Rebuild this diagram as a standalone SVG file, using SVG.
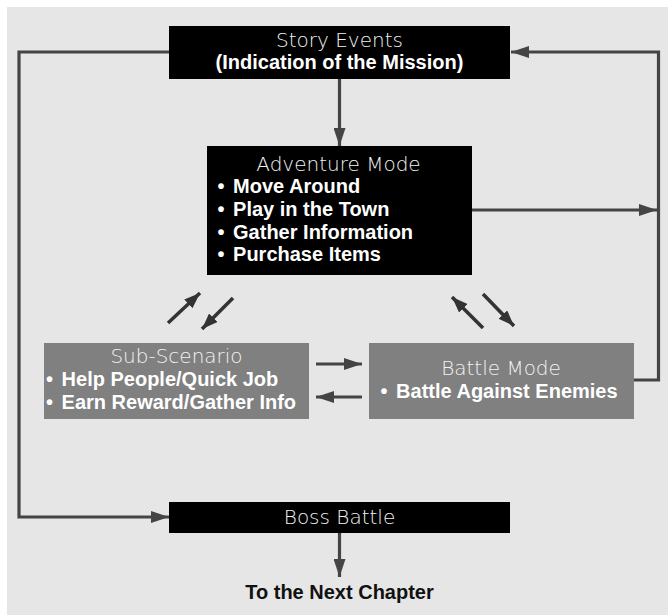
<svg xmlns="http://www.w3.org/2000/svg" width="668" height="615" viewBox="0 0 668 615">
<style>
.bg{fill:#e6e6e6}
.blk{fill:#000}
.gry{fill:#808080}
.ttl{font-family:"DejaVu Sans","Liberation Sans",sans-serif;font-size:20px;font-weight:300;fill:#f2f2f2}
.bld{font-family:"Liberation Sans",Arial,sans-serif;font-size:20px;font-weight:bold;fill:#fff}
.out{font-family:"Liberation Sans",Arial,sans-serif;font-size:20px;font-weight:bold;fill:#111}
.ln{fill:none;stroke:#444;stroke-width:3.2}
.ar{fill:none;stroke:#444;stroke-width:3.2;marker-end:url(#ah)}
.dg{fill:none;stroke:#333;stroke-width:3.5;marker-end:url(#ah2)}
</style>
<defs>
<marker id="ah" markerUnits="userSpaceOnUse" markerWidth="18" markerHeight="12" refX="18" refY="6" orient="auto">
<path d="M0,0 L18,6 L0,12 Z" fill="#444"/>
</marker>
<marker id="ah2" markerUnits="userSpaceOnUse" markerWidth="16" markerHeight="12" refX="16" refY="6" orient="auto">
<path d="M0,0 L16,6 L0,12 Z" fill="#333"/>
</marker>
</defs>
<rect class="bg" x="7" y="7" width="661" height="608"/>
<g id="connectors">
<path class="ar" d="M339.5,79 V146"/>
<path class="ar" d="M472,210 H657"/>
<path class="ar" d="M634,380 H658.5 V52 H511"/>
<path class="ar" d="M169,52 H19 V517 H169"/>
<path class="ar" d="M339.5,533 V577"/>
<path class="ar" d="M316,364 H362"/>
<path class="ar" d="M362,397 H316"/>
<path class="dg" d="M168,323 L200,293"/>
<path class="dg" d="M233,298 L202,329"/>
<path class="dg" d="M483,328 L452,297"/>
<path class="dg" d="M483,294 L514,326"/>
</g>
<g id="story-events">
<rect class="blk" x="169" y="26" width="341" height="53"/>
<text class="ttl" x="339.5" y="46.5" text-anchor="middle">Story Events</text>
<text class="bld" x="339.5" y="68.5" text-anchor="middle">(Indication of the Mission)</text>
</g>
<g id="adventure-mode">
<rect class="blk" x="207" y="146" width="265" height="129"/>
<text class="ttl" x="338.5" y="171" text-anchor="middle">Adventure Mode</text>
<text class="bld" x="217.5" y="193">• <tspan dx="3">Move Around</tspan></text>
<text class="bld" x="217.5" y="216">• <tspan dx="3">Play in the Town</tspan></text>
<text class="bld" x="217.5" y="239">• <tspan dx="3">Gather Information</tspan></text>
<text class="bld" x="217.5" y="261">• <tspan dx="3">Purchase Items</tspan></text>
</g>
<g id="sub-scenario">
<rect class="gry" x="44" y="343" width="265" height="76"/>
<text class="ttl" x="176.5" y="363" text-anchor="middle">Sub-Scenario</text>
<text class="bld" x="46" y="386">• <tspan dx="3">Help People/Quick Job</tspan></text>
<text class="bld" x="46" y="409">• <tspan dx="3">Earn Reward/Gather Info</tspan></text>
</g>
<g id="battle-mode">
<rect class="gry" x="369" y="343" width="265" height="76"/>
<text class="ttl" x="501" y="374.5" text-anchor="middle">Battle Mode</text>
<text class="bld" x="380.5" y="397.5">• <tspan dx="3">Battle Against Enemies</tspan></text>
</g>
<g id="boss-battle">
<rect class="blk" x="169" y="502" width="341" height="31"/>
<text class="ttl" x="339.5" y="523.5" text-anchor="middle">Boss Battle</text>
</g>
<g id="next-chapter">
<text class="out" x="339.5" y="598.5" text-anchor="middle">To the Next Chapter</text>
</g>
</svg>
